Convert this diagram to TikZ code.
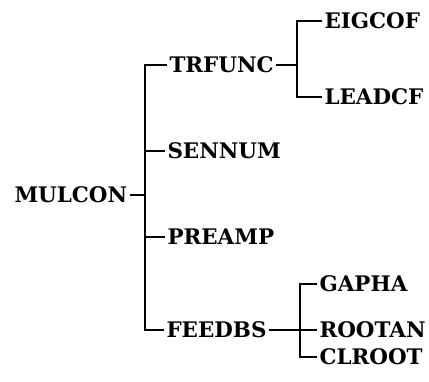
\documentclass[tikz,border=0pt]{standalone}
\usepackage{fontspec}
\setmainfont{DejaVu Serif}
\begin{document}
\begin{tikzpicture}[x=1bp,y=-1bp,
  lbl/.style={anchor=west,inner sep=0pt,outer sep=2.5bp,
    font=\bfseries\fontsize{21.5}{21.5}\selectfont,
    text height=15.7bp,text depth=0pt},
  link/.style={line width=2bp,line join=miter}]
\useasboundingbox (0,0) rectangle (429,382);
% routine names
\node[lbl] (mulcon) at (12,195) {MULCON};
\node[lbl] (trfunc) at (167,65) {TRFUNC};
\node[lbl] (sennum) at (165,151) {SENNUM};
\node[lbl] (preamp) at (165,237) {PREAMP};
\node[lbl] (feedbs) at (164,330) {FEEDBS};
\node[lbl] (eigcof) at (322,21) {EIGCOF};
\node[lbl] (leadcf) at (322,97) {LEADCF};
\node[lbl] (gapha) at (317,284) {GAPHA};
\node[lbl] (rootan) at (317,330) {ROOTAN};
\node[lbl] (clroot) at (317,357) {CLROOT};
% trunk positions
\coordinate (b1) at (145,0);
\coordinate (b2) at (297,0);
\coordinate (b3) at (300,0);
% MULCON calls
\draw[link] (mulcon.east) -- (mulcon.east -| b1);
\draw[link] (trfunc.west) -- (trfunc.west -| b1) -- (feedbs.west -| b1) -- (feedbs.west);
\draw[link] (sennum.west) -- (sennum.west -| b1);
\draw[link] (preamp.west) -- (preamp.west -| b1);
% TRFUNC calls
\draw[link] (trfunc.east) -- (trfunc.east -| b2);
\draw[link] (eigcof.west) -- (eigcof.west -| b2) -- (leadcf.west -| b2) -- (leadcf.west);
% FEEDBS calls
\draw[link] (feedbs.east) -- (rootan.west);
\draw[link] (gapha.west) -- (gapha.west -| b3) -- (clroot.west -| b3) -- (clroot.west);
\end{tikzpicture}
\end{document}
